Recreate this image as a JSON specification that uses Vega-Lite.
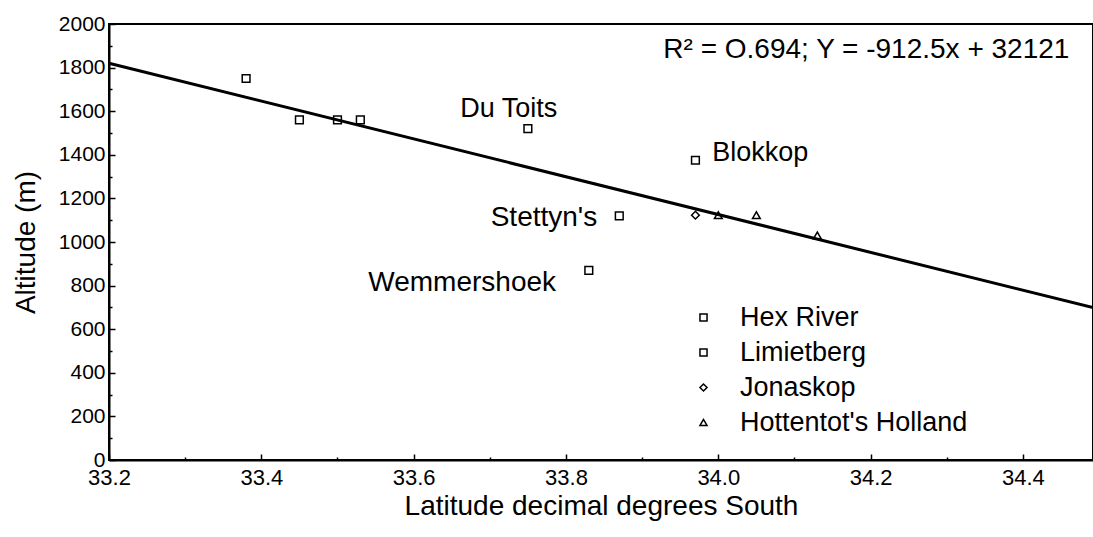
{
  "$schema": "https://vega.github.io/schema/vega-lite/v6.json",
  "autosize": "none",
  "width": 984,
  "height": 436,
  "padding": {"left": 109, "top": 24, "right": 0, "bottom": 77},
  "background": "white",
  "config": {
    "font": "Liberation Sans",
    "view": {"stroke": "black", "strokeWidth": 2},
    "axis": {"grid": false, "domainColor": "black", "domainWidth": 2, "tickColor": "black", "tickWidth": 1.5, "labelColor": "black", "titleColor": "black", "titleFontWeight": "normal", "labelFont": "Liberation Sans", "titleFont": "Liberation Sans", "titleFontSize": 28},
    "axisX": {"labelFontSize": 22},
    "axisY": {"labelFontSize": 21}
  },
  "datasets": {
    "points": [
      {"site": "Hex River", "lat": 33.38, "alt": 1750},
      {"site": "Hex River", "lat": 33.45, "alt": 1560},
      {"site": "Hex River", "lat": 33.50, "alt": 1560},
      {"site": "Hex River", "lat": 33.53, "alt": 1560},
      {"site": "Limietberg", "lat": 33.75, "alt": 1520},
      {"site": "Hex River", "lat": 33.97, "alt": 1375},
      {"site": "Limietberg", "lat": 33.87, "alt": 1120},
      {"site": "Limietberg", "lat": 33.83, "alt": 870},
      {"site": "Jonaskop", "lat": 33.97, "alt": 1123},
      {"site": "Hottentot's Holland", "lat": 34.00, "alt": 1123},
      {"site": "Hottentot's Holland", "lat": 34.05, "alt": 1123},
      {"site": "Hottentot's Holland", "lat": 34.13, "alt": 1030}
    ],
    "fit": [
      {"lat": 33.2, "alt": 1820},
      {"lat": 34.492, "alt": 699}
    ],
    "labelsLeft": [
      {"text": "Blokkop", "lat": 33.992, "alt": 1370}
    ],
    "labelsCenter": [
      {"text": "Du Toits", "lat": 33.725, "alt": 1575}
    ],
    "labelsRight": [
      {"text": "Stettyn's", "lat": 33.841, "alt": 1073},
      {"text": "Wemmershoek", "lat": 33.787, "alt": 776}
    ],
    "equation": [
      {"text": "R² = O.694; Y = -912.5x + 32121", "lat": 34.461, "alt": 1845}
    ]
  },
  "encoding": {
    "x": {"field": "lat", "type": "quantitative", "scale": {"domain": [33.2, 34.492], "nice": false, "zero": false},
      "axis": {"orient": "bottom", "values": [33.2, 33.3, 33.4, 33.5, 33.6, 33.7, 33.8, 33.9, 34.0, 34.1, 34.2, 34.3, 34.4], "format": ".1f",
        "labelExpr": "round(datum.value*10) % 2 == 0 ? datum.label : ''",
        "tickSize": {"condition": {"test": "round(datum.value*10) % 2 == 0", "value": -6}, "value": -3},
        "labelFontSize": 22, "labelPadding": 13, "labelFlush": false, "labelOverlap": false,
        "title": "Latitude decimal degrees South", "titleFontSize": 28, "titlePadding": 1}},
    "y": {"field": "alt", "type": "quantitative", "scale": {"domain": [0, 2000], "nice": false, "zero": false},
      "axis": {"values": [0, 100, 200, 300, 400, 500, 600, 700, 800, 900, 1000, 1100, 1200, 1300, 1400, 1500, 1600, 1700, 1800, 1900, 2000], "format": "d",
        "labelExpr": "datum.value % 200 == 0 ? datum.label : ''",
        "tickSize": {"condition": {"test": "datum.value % 200 == 0", "value": -6}, "value": -3},
        "labelFontSize": 21, "labelPadding": 10, "labelFlush": false, "labelOverlap": false,
        "title": "Altitude (m)", "titleFontSize": 28, "titlePadding": 18}}
  },
  "layer": [
    {
      "data": {"name": "fit"},
      "mark": {"type": "line", "color": "black", "strokeWidth": 3}
    },
    {
      "data": {"name": "points"},
      "mark": {"type": "point", "filled": false, "color": "black", "size": 60, "strokeWidth": 1.5, "opacity": 1},
      "encoding": {
        "shape": {"field": "site", "type": "nominal",
          "scale": {"domain": ["Hex River", "Limietberg", "Jonaskop", "Hottentot's Holland"], "range": ["square", "square", "diamond", "triangle-up"]},
          "legend": {"orient": "none", "legendX": 581, "legendY": 280, "title": null, "labelFontSize": 27, "labelFont": "Liberation Sans", "labelColor": "black", "labelOffset": 23, "labelLimit": 0, "rowPadding": 7, "symbolSize": 50, "symbolStrokeColor": "black", "symbolFillColor": "transparent", "symbolStrokeWidth": 1.5, "padding": 0}}
      }
    },
    {
      "data": {"name": "labelsLeft"},
      "mark": {"type": "text", "align": "left", "baseline": "alphabetic", "fontSize": 27, "color": "black", "font": "Liberation Sans"},
      "encoding": {"text": {"field": "text"}}
    },
    {
      "data": {"name": "labelsCenter"},
      "mark": {"type": "text", "align": "center", "baseline": "alphabetic", "fontSize": 27, "color": "black", "font": "Liberation Sans"},
      "encoding": {"text": {"field": "text"}}
    },
    {
      "data": {"name": "labelsRight"},
      "mark": {"type": "text", "align": "right", "baseline": "alphabetic", "fontSize": 28, "color": "black", "font": "Liberation Sans"},
      "encoding": {"text": {"field": "text"}}
    },
    {
      "data": {"name": "equation"},
      "mark": {"type": "text", "align": "right", "baseline": "alphabetic", "fontSize": 28, "color": "black", "font": "Liberation Sans"},
      "encoding": {"text": {"field": "text"}}
    }
  ]
}
